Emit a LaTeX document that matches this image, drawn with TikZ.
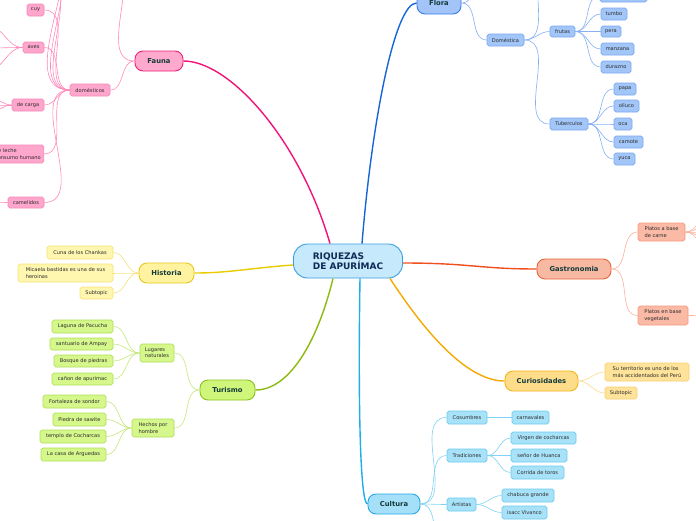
\documentclass[tikz,border=0pt]{standalone}
\usepackage{fontspec}
\setmainfont{DejaVu Sans}
\definecolor{leaftxt}{HTML}{2B2B2B}
\definecolor{topictxt}{HTML}{123A3A}
\definecolor{cenF}{HTML}{C6E9FB}\definecolor{cenD}{HTML}{3A9FE0}\definecolor{cenT}{HTML}{0F2A55}
\definecolor{faM}{HTML}{F0147A}\definecolor{faF}{HTML}{FFAACC}\definecolor{faD}{HTML}{F0207A}
\definecolor{faL}{HTML}{FFA6CC}\definecolor{faLD}{HTML}{F58AB8}\definecolor{faS}{HTML}{FF8ABB}
\definecolor{flM}{HTML}{1766D8}\definecolor{flF}{HTML}{A2C4F8}\definecolor{flD}{HTML}{3A7EE8}
\definecolor{flL}{HTML}{A3C6F9}\definecolor{flLD}{HTML}{7AA8F0}\definecolor{flS}{HTML}{85B0F5}
\definecolor{hiM}{HTML}{E8CC00}\definecolor{hiF}{HTML}{FFF3A0}\definecolor{hiD}{HTML}{E6C81E}
\definecolor{hiL}{HTML}{FFF6B0}\definecolor{hiLD}{HTML}{F5E47A}\definecolor{hiS}{HTML}{F5E27A}
\definecolor{tuM}{HTML}{8CBA10}\definecolor{tuF}{HTML}{CFF57A}\definecolor{tuD}{HTML}{88C21E}
\definecolor{tuL}{HTML}{D5F78C}\definecolor{tuLD}{HTML}{B2E05A}\definecolor{tuS}{HTML}{C5E87A}
\definecolor{gaM}{HTML}{F04F1E}\definecolor{gaF}{HTML}{F8B9A2}\definecolor{gaD}{HTML}{E8653C}
\definecolor{gaL}{HTML}{FABAA5}\definecolor{gaLD}{HTML}{F59A80}\definecolor{gaS}{HTML}{FBB39B}
\definecolor{cuM}{HTML}{F5AA00}\definecolor{cuF}{HTML}{FEDD8A}\definecolor{cuD}{HTML}{F4B516}
\definecolor{cuL}{HTML}{FFE39A}\definecolor{cuLD}{HTML}{F8D070}\definecolor{cuS}{HTML}{FBD98A}
\definecolor{clM}{HTML}{1EAEE8}\definecolor{clF}{HTML}{A6E0F8}\definecolor{clD}{HTML}{26A8E6}
\definecolor{clL}{HTML}{A8E2F9}\definecolor{clLD}{HTML}{6CCAF0}\definecolor{clS}{HTML}{80D2F4}
\tikzset{
  leaf/.style={draw, rounded corners=1.8pt, line width=0.7pt, inner sep=0pt,
    font=\fontsize{5.1}{6.2}\selectfont, text=leaftxt, align=left},
  topic/.style={draw, rounded corners=8pt, line width=0.9pt, inner sep=0pt,
    font=\fontsize{6.8}{8}\selectfont\bfseries, text=topictxt},
  mainline/.style={line width=1.4pt},
  subline/.style={line width=0.6pt},
  fal/.style={leaf, fill=faL, draw=faLD},
  fll/.style={leaf, fill=flL, draw=flLD},
  hil/.style={leaf, fill=hiL, draw=hiLD},
  tul/.style={leaf, fill=tuL, draw=tuLD},
  gal/.style={leaf, fill=gaL, draw=gaLD},
  cul/.style={leaf, fill=cuL, draw=cuLD},
  cll/.style={leaf, fill=clL, draw=clLD},
  fas/.style={subline, faS}, fls/.style={subline, flS}, his/.style={subline, hiS},
  tus/.style={subline, tuS}, gas/.style={subline, gaS}, cus/.style={subline, cuS},
  cls/.style={subline, clS},
  lr/.style={out=180,in=0}, rl/.style={out=0,in=180}
}
\begin{document}
\begin{tikzpicture}[x=1pt,y=-1pt]
\useasboundingbox (0,0) rectangle (696,520);
\fill[white] (0,0) rectangle (696,520);
\clip (0,0) rectangle (696,520);

% ---------- nodes ----------
\node[draw=cenD, fill=cenF, line width=0.9pt, rounded corners=14pt, minimum width=109, minimum height=34,
  inner sep=0pt, align=left, text=cenT, font=\fontsize{9}{10.5}\selectfont\bfseries] (central) at (348,261) {RIQUEZAS\\DE APURÍMAC};

% Fauna
\node[topic, fill=faF, draw=faD, minimum width=48, minimum height=20] (fauna) at (159,61) {Fauna};
\node[fal, minimum width=40, minimum height=12] (dom) at (90,90) {domésticos};
\node[fal, minimum width=17, minimum height=12] (cuy) at (35.5,10) {cuy};
\node[fal, minimum width=21, minimum height=11] (aves) at (33.5,47.5) {aves};
\node[fal, minimum width=32, minimum height=12] (carga) at (28,105) {de carga};
\node[fal, minimum height=18, inner xsep=3pt, anchor=east] (leche) at (44,154) {de leche\\consumo humano};
\node[fal, minimum width=36, minimum height=11] (cam) at (26,202.5) {camelidos};
\coordinate (fup) at (108,-40);
\coordinate (d1) at (44,-20); \coordinate (d2) at (44,-45); \coordinate (d3) at (44,-75);
\coordinate (a1) at (-12,26); \coordinate (a2) at (-12,48); \coordinate (a3) at (-12,70);
\coordinate (c1) at (-10,98); \coordinate (c2) at (-10,105); \coordinate (c3) at (-10,112);
\coordinate (m1) at (-10,202);

% Flora
\node[topic, fill=flF, draw=flD, minimum width=44, minimum height=22] (flora) at (439,3) {Flora};
\node[fll, minimum width=37, minimum height=12] (domest) at (505.5,40) {Doméstica};
\node[fll, minimum width=25, minimum height=11] (frutas) at (562.5,31.5) {frutas};
\node[fll, minimum width=38, minimum height=12] (tuber) at (569,124) {Tuberculos};
\node[fll, minimum width=47, minimum height=12] (fr0) at (623.5,-4) {};
\node[fll, minimum width=26, minimum height=12] (tumbo) at (614,14) {tumbo};
\node[fll, minimum width=20, minimum height=11] (pera) at (611,31.5) {pera};
\node[fll, minimum width=33, minimum height=12] (manzana) at (617.5,49) {manzana};
\node[fll, minimum width=30, minimum height=12] (durazno) at (616,67) {durazno};
\node[fll, minimum width=22, minimum height=12] (papa) at (625,89) {papa};
\node[fll, minimum width=25, minimum height=12] (olluco) at (626.5,106) {olluco};
\node[fll, minimum width=18, minimum height=12] (oca) at (623,124) {oca};
\node[fll, minimum width=29, minimum height=12] (camote) at (628.5,142) {camote};
\node[fll, minimum width=21, minimum height=12] (yuca) at (624.5,159) {yuca};
\coordinate (floraup) at (490,-25);
\coordinate (domup) at (552,-35);

% Historia
\node[topic, fill=hiF, draw=hiD, minimum width=55, minimum height=20] (hist) at (166.5,273) {Historia};
\node[hil, minimum width=66, minimum height=13] (cuna) at (80,252.5) {Cuna de los Chankas};
\node[hil, minimum width=95, minimum height=18] (micaela) at (65.5,273) {Micaela bastidas es una de sus\\heroinas};
\node[hil, minimum width=33, minimum height=12] (subh) at (96.5,293) {Subtopic};

% Turismo
\node[topic, fill=tuF, draw=tuD, minimum width=55, minimum height=20] (tur) at (227.5,390) {Turismo};
\node[tul, minimum width=34, minimum height=18] (lugares) at (157,353) {Lugares\\naturales};
\node[tul, minimum width=42, minimum height=18] (hechos) at (153,428) {Hechos por\\hombre};
\node[tul, minimum width=61, minimum height=13] (laguna) at (82.5,326.5) {Laguna de Pacucha};
\node[tul, minimum width=63, minimum height=12] (santuario) at (81.5,344) {santuario de Ampay};
\node[tul, minimum width=59, minimum height=12] (bosque) at (83.5,361) {Bosque de piedras};
\node[tul, minimum width=61, minimum height=12] (canon) at (82.5,379) {cañon de apurimac};
\node[tul, minimum width=63, minimum height=13] (fortaleza) at (74.5,401.5) {Fortaleza de sondor};
\node[tul, minimum width=53, minimum height=13] (piedra) at (79.5,419.5) {Piedra de sawite};
\node[tul, minimum width=66, minimum height=13] (templo) at (73,436.5) {templo de Cocharcas};
\node[tul, minimum width=65, minimum height=13] (casa) at (73.5,454.5) {La casa de Arguedas};

% Gastronomia
\node[topic, fill=gaF, draw=gaD, minimum width=74, minimum height=20] (gastro) at (574,269) {Gastronomia};
\node[gal, minimum width=47, minimum height=18] (carne) at (661.5,232) {Platos a base\\de carne};
\node[gal, minimum width=50, minimum height=19] (veget) at (663,315.5) {Platos en base\\vegetales};
\coordinate (g1) at (712,214); \coordinate (g2) at (712,224); \coordinate (g3) at (712,232);
\coordinate (g4) at (712,240); \coordinate (g5) at (712,250); \coordinate (g6) at (712,315);

% Curiosidades
\node[topic, fill=cuF, draw=cuD, minimum width=73, minimum height=20] (curios) at (541.5,381) {Curiosidades};
\node[cul, minimum width=84, minimum height=18] (terr) at (647,372) {Su territorio es uno de los\\más accidentados del Perú};
\node[cul, minimum width=32, minimum height=12] (subc) at (621,393) {Subtopic};

% Cultura
\node[topic, fill=clF, draw=clD, minimum width=52, minimum height=20] (cultura) at (394,504) {Cultura};
\node[cll, minimum width=40, minimum height=13] (cosum) at (467,417.5) {Cosumbres};
\node[cll, minimum width=40, minimum height=13] (trad) at (467,455.5) {Tradiciones};
\node[cll, minimum width=29, minimum height=13] (artis) at (461.5,504.5) {Artistas};
\node[cll, minimum width=37, minimum height=13] (carnav) at (530.5,417.5) {carnavales};
\node[cll, minimum width=65, minimum height=12] (virgen) at (543.5,438) {Virgen de cocharcas};
\node[cll, minimum width=56, minimum height=13] (senor) at (539,455.5) {señor de Huanca};
\node[cll, minimum width=53, minimum height=13] (corrida) at (537.5,472.5) {Corrida de toros};
\node[cll, minimum width=52, minimum height=13] (chabuca) at (528,495.5) {chabuca grande};
\node[cll, minimum width=45, minimum height=13] (isacc) at (524.5,512.5) {isacc Vivanco};
\coordinate (culdown) at (448,545);

% ---------- connectors ----------
\begin{scope}[on background layer/.try]
\end{scope}
% main branches
\draw[mainline, faM] ([xshift=-18pt]central.north) .. controls (300,140) and (230,61) .. (fauna.east);
\draw[mainline, flM] ([xshift=14pt]central.north) .. controls (372,120) and (395,3) .. (flora.west);
\draw[mainline, hiM] ([yshift=-4pt]central.west) .. controls (250,268) and (230,273) .. (hist.east);
\draw[mainline, tuM] ([xshift=-15pt]central.south) .. controls (318,340) and (290,390) .. (tur.east);
\draw[mainline, gaM] ([yshift=-2pt]central.east) .. controls (470,263) and (480,269) .. (gastro.west);
\draw[mainline, cuM] ([xshift=42pt]central.south) .. controls (430,340) and (470,381) .. (curios.west);
\draw[mainline, clM] ([xshift=12pt]central.south) .. controls (358,400) and (360,504) .. (cultura.west);

% Fauna sub
\draw[fas] (fauna.west) to[lr] (dom.east);
\draw[fas] (fauna.west) to[lr] (fup);
\foreach \t in {cuy,aves,carga,leche,cam} \draw[fas] (dom.west) to[lr] (\t.east);
\foreach \t in {d1,d2,d3} \draw[fas] (dom.west) to[lr] (\t);
\foreach \t in {a1,a2,a3} \draw[fas] (aves.west) to[lr] (\t);
\foreach \t in {c1,c2,c3} \draw[fas] (carga.west) to[lr] (\t);
\draw[fas] (cam.west) to[lr] (m1);

% Flora sub
\draw[fls] (flora.east) to[rl] (domest.west);
\draw[fls] (flora.east) to[rl] (floraup);
\draw[fls] (domest.east) to[rl] (domup);
\draw[fls] (domest.east) to[rl] (frutas.west);
\draw[fls] (domest.east) to[rl] (tuber.west);
\foreach \t in {fr0,tumbo,pera,manzana,durazno} \draw[fls] (frutas.east) to[rl] (\t.west);
\foreach \t in {papa,olluco,oca,camote,yuca} \draw[fls] (tuber.east) to[rl] (\t.west);

% Historia sub
\foreach \t in {cuna,micaela,subh} \draw[his] (hist.west) to[lr] (\t.east);

% Turismo sub
\foreach \t in {lugares,hechos} \draw[tus] (tur.west) to[lr] (\t.east);
\foreach \t in {laguna,santuario,bosque,canon} \draw[tus] (lugares.west) to[lr] (\t.east);
\foreach \t in {fortaleza,piedra,templo,casa} \draw[tus] (hechos.west) to[lr] (\t.east);

% Gastronomia sub
\foreach \t in {carne,veget} \draw[gas] (gastro.east) to[rl] (\t.west);
\foreach \t in {g1,g2,g3,g4,g5} \draw[gas] (carne.east) to[rl] (\t);
\draw[gas] (veget.east) to[rl] (g6);

% Curiosidades sub
\foreach \t in {terr,subc} \draw[cus] (curios.east) to[rl] (\t.west);

% Cultura sub
\foreach \t in {cosum,trad,artis} \draw[cls] (cultura.east) to[rl] (\t.west);
\draw[cls] (cultura.east) to[rl] (culdown);
\draw[cls] (cosum.east) to[rl] (carnav.west);
\foreach \t in {virgen,senor,corrida} \draw[cls] (trad.east) to[rl] (\t.west);
\foreach \t in {chabuca,isacc} \draw[cls] (artis.east) to[rl] (\t.west);
\end{tikzpicture}
\end{document}
